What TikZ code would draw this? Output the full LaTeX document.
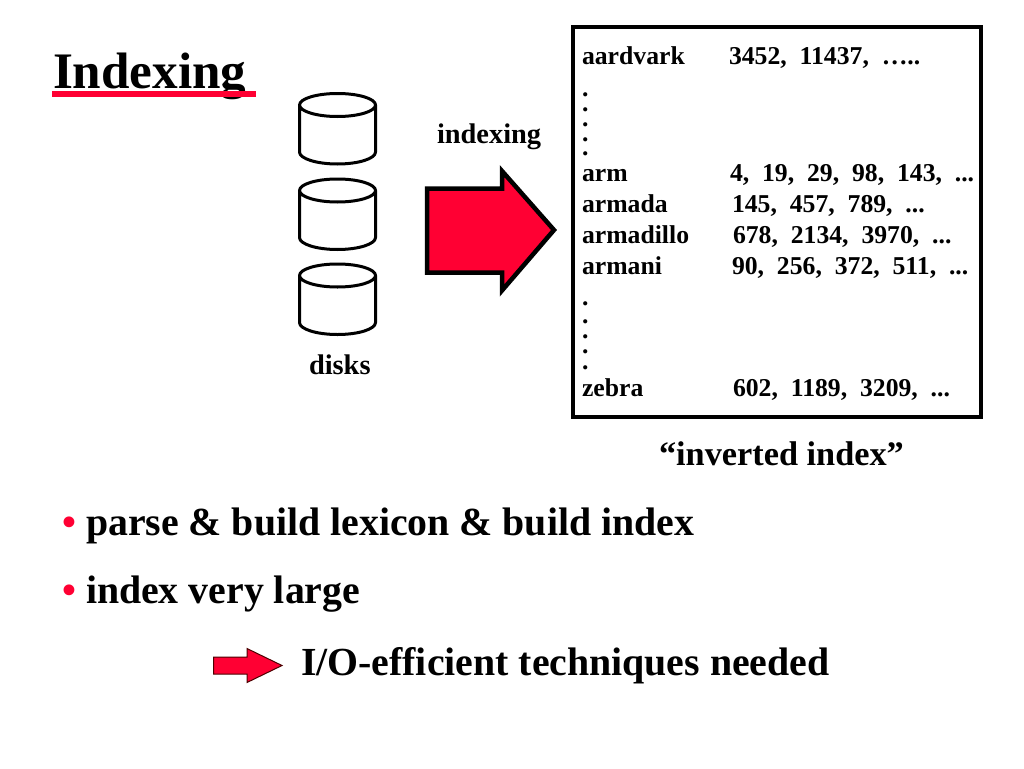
\documentclass[tikz,border=0pt]{standalone}
\usepackage{fontspec}
\setmainfont{Liberation Serif}[Ligatures=TeX]
\definecolor{slidered}{HTML}{FF0033}
\newcommand{\fsz}[1]{\fontsize{#1}{#1}\selectfont\bfseries}
\tikzset{
  txt/.style={anchor=base west,inner sep=0pt,outer sep=0pt,text=black},
  tbl/.style={txt,font=\fsz{25.7}},
  dotm/.style={txt,font=\fsz{25.7}},
  captxt/.style={txt,font=\fsz{28.4}},
  bodytxt/.style={txt,font=\fsz{39.8}},
  bul/.style={txt,font=\fsz{39.8},text=slidered},
  disk/.style={draw=black,line width=3pt,fill=white,line join=round},
  bigarrow/.style={draw=black,line width=4.5pt,fill=slidered,line join=miter,miter limit=10},
  smallarrow/.style={draw=black!70!red,line width=1pt,fill=slidered,line join=miter}
}
\newcommand{\diskshape}[1]{%
  \draw[disk] (299.5,#1) -- (299.5,#1+47) arc[start angle=180,end angle=360,x radius=38pt,y radius=12pt] -- (375.5,#1)
     arc[start angle=0,end angle=360,x radius=38pt,y radius=11.5pt];
}
\begin{document}
\begin{tikzpicture}[x=1pt,y=-1pt]
\useasboundingbox (0,0) rectangle (1024,768);
\fill[white] (0,0) rectangle (1024,768);
% title
\node[txt,font=\fsz{51.2}] (title) at (53,88) {Indexing};
\fill[slidered] (51.5,90.5) rectangle (256,97);
% disks
\diskshape{105}
\diskshape{190.5}
\diskshape{275.5}
\node[captxt] (disks) at (309,374) {disks};
% arrow
\node[captxt] (indexing) at (437,143) {indexing};
\draw[bigarrow] (427,188.5) -- (502,188.5) -- (502,171) -- (554,230) -- (502,290.5) -- (502,272.5) -- (427,272.5) -- cycle;
% box
\draw[draw=black,line width=4pt] (573,27) rectangle (981,417);
\node[tbl] (t1) at (582,64) {aardvark};
\node[tbl] (n1) at (729,64) {3452,\ \ 11437,\ \ …..};
\foreach \i/\yy in {a/92,b/107,c/122,d/137,e/151,f/301,g/319,h/334,i/349,j/365}
  \node[dotm] (dot\i) at (582,\yy+4) {.};
\node[tbl] (t2) at (582,181) {arm};
\node[tbl] (n2) at (730,181) {4,\ \ 19,\ \ 29,\ \ 98,\ \ 143,\ \ ...};
\node[tbl] (t3) at (582,212) {armada};
\node[tbl] (n3) at (732,212) {145,\ \ 457,\ \ 789,\ \ ...};
\node[tbl] (t4) at (582,243) {armadillo};
\node[tbl] (n4) at (733,243) {678,\ \ 2134,\ \ 3970,\ \ ...};
\node[tbl] (t5) at (582,274) {armani};
\node[tbl] (n5) at (732,274) {90,\ \ 256,\ \ 372,\ \ 511,\ \ ...};
\node[tbl] (t6) at (582,396) {zebra};
\node[tbl] (n6) at (733,396) {602,\ \ 1189,\ \ 3209,\ \ ...};
\node[txt,font=\fsz{34.3}] (inv) at (659,465) {“inverted index”};
% bullets
\node[bul] (b1) at (62,535) {•};
\node[bodytxt] (l1) at (86,535) {parse \& build lexicon \& build index};
\node[bul] (b2) at (62,603) {•};
\node[bodytxt] (l2) at (86,603) {index very large};
\draw[smallarrow] (213.5,657) -- (247,657) -- (247,648.5) -- (282,665.5) -- (247,682.5) -- (247,674) -- (213.5,674) -- cycle;
\node[bodytxt] (l3) at (301,675) {I/O-efficient techniques needed};
\end{tikzpicture}
\end{document}
